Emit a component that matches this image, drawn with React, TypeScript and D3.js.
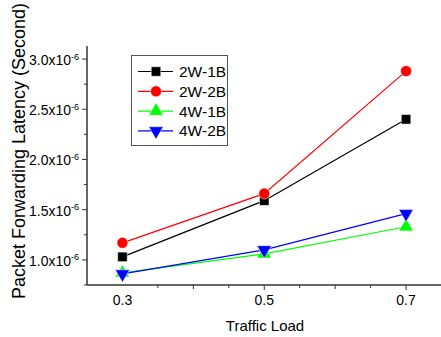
import * as d3 from "d3";
import React, { useEffect, useRef } from "react";

const loads = [0.3, 0.5, 0.7];
const w2b1 = [1.03, 1.59, 2.4];
const w2b2 = [1.17, 1.66, 2.88];
const w4b1 = [0.87, 1.06, 1.33];
const w4b2 = [0.86, 1.1, 1.46];
const yTicks = [1.0, 1.5, 2.0, 2.5, 3.0];
const xTicks = [0.3, 0.5, 0.7];

const series = [
  { name: "2W-1B", values: w2b1, color: "#000000", shape: d3.symbolSquare },
  { name: "2W-2B", values: w2b2, color: "#ff0000", shape: d3.symbolCircle },
  { name: "4W-1B", values: w4b1, color: "#00ff00", shape: d3.symbolTriangle },
  { name: "4W-2B", values: w4b2, color: "#0000ff", shape: "down" },
];

const font = "'Liberation Sans', Arial, sans-serif";

export default function App() {
  const svgRef = useRef<SVGSVGElement | null>(null);

  useEffect(() => {
    const svg = d3.select(svgRef.current);
    svg.selectAll("*").remove();

    const left = 87;
    const bottom = 285;
    const x = d3.scaleLinear().domain([0.25, 0.75]).range([left, 441.5]);
    const y = d3.scaleLinear().domain([0.75, 3.13]).range([bottom, 46]);

    const axisColor = "#333";

    // y axis
    svg
      .append("line")
      .attr("x1", left)
      .attr("x2", left)
      .attr("y1", y(3.13))
      .attr("y2", bottom)
      .attr("stroke", axisColor)
      .attr("stroke-width", 1.5);
    d3.range(0.75, 3.13, 0.25).forEach((v) => {
      const major = yTicks.some((t) => Math.abs(t - v) < 1e-6);
      svg
        .append("line")
        .attr("x1", left - (major ? 5 : 3))
        .attr("x2", left)
        .attr("y1", y(v))
        .attr("y2", y(v))
        .attr("stroke", axisColor)
        .attr("stroke-width", 1);
    });
    yTicks.forEach((t) => {
      svg
        .append("text")
        .attr("x", left - 16)
        .attr("y", y(t) + 6)
        .attr("text-anchor", "end")
        .attr("font-family", font)
        .attr("font-size", 14)
        .text(`${t.toFixed(1)}x10`);
      svg
        .append("text")
        .attr("x", left - 16)
        .attr("y", y(t) + 0.5)
        .attr("font-family", font)
        .attr("font-size", 9)
        .text("-6");
    });

    // x axis
    svg
      .append("line")
      .attr("x1", left)
      .attr("x2", 441)
      .attr("y1", bottom)
      .attr("y2", bottom)
      .attr("stroke", axisColor)
      .attr("stroke-width", 1.5);
    d3.range(0.35, 0.76, 0.05).forEach((v) => {
      const major = xTicks.some((t) => Math.abs(t - v) < 1e-6);
      const mid = Math.abs(v - 0.4) < 1e-6 || Math.abs(v - 0.6) < 1e-6;
      svg
        .append("line")
        .attr("x1", x(v))
        .attr("x2", x(v))
        .attr("y1", bottom)
        .attr("y2", bottom + (major ? 5 : mid ? 4 : 3))
        .attr("stroke", axisColor)
        .attr("stroke-width", 1);
    });
    xTicks.forEach((t) => {
      svg
        .append("text")
        .attr("x", x(t))
        .attr("y", bottom + 20)
        .attr("text-anchor", "middle")
        .attr("font-family", font)
        .attr("font-size", 14)
        .text(t.toFixed(1));
    });

    svg
      .append("text")
      .attr("x", 265)
      .attr("y", 331)
      .attr("text-anchor", "middle")
      .attr("font-family", font)
      .attr("font-size", 15)
      .text("Traffic Load");

    svg
      .append("text")
      .attr("transform", `translate(25,151) rotate(-90)`)
      .attr("text-anchor", "middle")
      .attr("font-family", font)
      .attr("font-size", 18)
      .text("Packet Forwarding Latency (Second)");

    const line = d3
      .line<number>()
      .x((d, i) => x(loads[i]))
      .y((d) => y(d));

    const marker = (g: any, shape: any, color: string, cx: number, cy: number) => {
      const isDown = shape === "down";
      const sym = isDown ? d3.symbolTriangle : shape;
      const size = shape === d3.symbolCircle ? 95 : 90;
      g.append("path")
        .attr("d", d3.symbol(sym, size)())
        .attr("transform", `translate(${cx},${cy})${isDown ? " rotate(180)" : ""}`)
        .attr("fill", color)
        .attr("stroke", "#fff")
        .attr("stroke-width", 0.5);
    };

    series.forEach((s) => {
      svg
        .append("path")
        .datum(s.values)
        .attr("d", line)
        .attr("fill", "none")
        .attr("stroke", s.color)
        .attr("stroke-width", 1.2);
    });
    series.forEach((s) => {
      s.values.forEach((v, i) => marker(svg, s.shape, s.color, x(loads[i]), y(v)));
    });

    // legend
    const lg = svg.append("g");
    lg.append("rect")
      .attr("x", 131.5)
      .attr("y", 55.5)
      .attr("width", 96)
      .attr("height", 90)
      .attr("fill", "#fff")
      .attr("stroke", "#555")
      .attr("stroke-width", 1);
    series.forEach((s, i) => {
      const ly = 71.5 + i * 19.8;
      lg.append("line")
        .attr("x1", 138)
        .attr("x2", 173)
        .attr("y1", ly)
        .attr("y2", ly)
        .attr("stroke", s.color)
        .attr("stroke-width", 1.2);
      marker(lg, s.shape, s.color, 156, ly);
      lg.append("text")
        .attr("x", 179)
        .attr("y", ly + 5.5)
        .attr("font-family", font)
        .attr("font-size", 15.5)
        .text(s.name);
    });
  }, []);

  return (
    <svg
      ref={svgRef}
      width={441}
      height={337}
      style={{ position: "absolute", left: 0, top: 0, background: "#fff" }}
    />
  );
}
